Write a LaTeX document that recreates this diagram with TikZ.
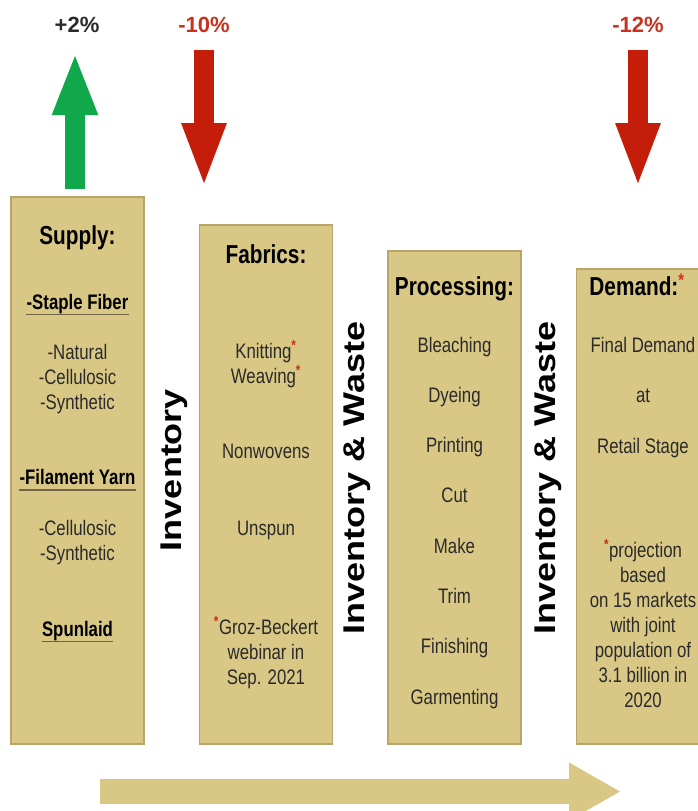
\documentclass[tikz,border=0pt]{standalone}
\usepackage{fontspec}
\setmainfont{Liberation Sans}
\newfontfamily\narrowsf{Liberation Sans}[FakeStretch=0.8]
\newfontfamily\tallsf{Liberation Sans}[FakeStretch=1.2]
\usetikzlibrary{arrows.meta,positioning}
\definecolor{stagefill}{HTML}{D9C885}
\definecolor{stageline}{HTML}{B9A569}
\definecolor{upgreen}{HTML}{10A84B}
\definecolor{downred}{HTML}{C41E0A}
\definecolor{pctred}{HTML}{C8321E}
\definecolor{inkgrey}{HTML}{2A2A2A}
\definecolor{ulgrey}{HTML}{6E6446}
\tikzset{
  stage/.style={draw=stageline, fill=stagefill, line width=1.8pt,
                minimum width=133pt, anchor=north, inner sep=0pt},
  hdr/.style={font=\narrowsf\bfseries\fontsize{26}{30}\selectfont,
              text=black, anchor=base, inner sep=0pt},
  sub/.style={font=\narrowsf\bfseries\fontsize{21}{25}\selectfont,
              text=black, anchor=base, inner sep=0pt},
  itm/.style={font=\narrowsf\fontsize{21}{25}\selectfont, text=inkgrey,
              anchor=base, inner sep=0pt},
  side/.style={font=\tallsf\bfseries\fontsize{30}{34}\selectfont,
               rotate=90, inner sep=0pt},
  pct/.style={font=\bfseries\fontsize{22}{26}\selectfont, inner sep=0pt},
  bigup/.style={-{Triangle[length=63pt,width=41pt]}, line width=20pt,
                draw=upgreen},
  bigdown/.style={-{Triangle[length=65pt,width=40pt]}, line width=20pt,
                  draw=downred},
  flowbar/.style={-{Triangle[length=52pt,width=54pt]}, line width=25pt,
                  draw=stagefill},
  ul/.style={draw=ulgrey, line width=1.6pt},
}
\newcommand{\redstar}{\textsuperscript{\textcolor{pctred}{\bfseries *}}}

\begin{document}
\begin{tikzpicture}[x=1pt, y=-1pt]
\useasboundingbox (0,0) rectangle (698,811);
\clip (0,0) rectangle (698,811);
\def\dx{188.5}

% the four stages
\node[stage, minimum height=547pt] at (77.5+0*\dx,196) (supply) {};
\node[stage, minimum height=519pt] at (77.5+1*\dx,224) (fabrics) {};
\node[stage, minimum height=493pt] at (77.5+2*\dx,250) (processing) {};
\node[stage, minimum height=475pt] at (77.5+3*\dx,268) (demand) {};

% supply
\node[hdr] at (77.5,244) (supplyhd) {Supply:};
\node[sub] at (77.5,309) (staple) {-Staple Fiber};
\foreach \t [count=\i from 0] in {-Natural,-Cellulosic,-Synthetic}{
  \node[itm] at (77.5,359+\i*25) (sf\i) {\t};}
\node[sub] at (77.5,484.5) (filament) {-Filament Yarn};
\foreach \t [count=\i from 0] in {-Cellulosic,-Synthetic}{
  \node[itm] at (77.5,535+\i*25) (fy\i) {\t};}
\node[sub] at (77.5,636) (spunlaid) {Spunlaid};
\foreach \n in {staple, filament, spunlaid}{
  \draw[ul] ([yshift=-5.5pt]\n.base west) -- ([yshift=-5.5pt]\n.base east);}

% fabrics
\node[hdr] at (266,263.5) (fabricshd) {Fabrics:};
\node[itm] at (266,358) (knit) {Knitting\redstar};
\node[itm] at (266,383) (weave) {Weaving\redstar};
\node[itm] at (266,458) (nonwoven) {Nonwovens};
\node[itm] at (266,535) (unspun) {Unspun};
\foreach \t [count=\i from 0] in {{\redstar Groz-Beckert},webinar in,Sep. 2021}{
  \node[itm] at (266,634+\i*25) (gb\i) {\t};}

% processing
\node[hdr] at (454.5,295.5) (processinghd) {Processing:};
\foreach \t [count=\i from 0] in {Bleaching,Dyeing,Printing,Cut,Make,Trim,
    Finishing,Garmenting}{
  \node[itm] at (454.5,352+\i*50.3) (pr\i) {\t};}

% demand
\node[hdr] at (637,295.5) (demandhd) {Demand:\redstar};
\foreach \t [count=\i from 0] in {Final Demand,at,Retail Stage}{
  \node[itm] at (643,352+\i*50.8) (dm\i) {\t};}
\foreach \t [count=\i from 0] in {{\redstar projection},based,on 15 markets,
    with joint,population of,3.1 billion in,2020}{
  \node[itm] at (643,557+\i*25) (pj\i) {\t};}

% inventory between stages
\node[side] at (174,470) (inv1) {Inventory};
\node[side] at (357,478) (inv2) {Inventory \& Waste};
\node[side] at (548,478) (inv3) {Inventory \& Waste};

% change arrows
\node[pct, text=inkgrey] at (77,25) (pctsupply) {+2\%};
\node[pct, text=pctred] at (204,25) (pctfabric) {-10\%};
\node[pct, text=pctred] at (638,25) (pctdemand) {-12\%};
\coordinate (uptip) at (75,52);
\coordinate (down1top) at (204,50);
\coordinate (down1tip) at (204,188);
\coordinate (down2top) at (638,50);
\coordinate (down2tip) at (638,188);
\draw[bigup] ([xshift=-2.5pt,yshift=7pt]supply.north) -- (uptip);
\draw[bigdown] (down1top) -- (down1tip);
\draw[bigdown] (down2top) -- (down2tip);

% flow direction
\coordinate (flowstart) at (100,791.5);
\coordinate (flowend) at (621,791.5);
\draw[flowbar] (flowstart) -- (flowend);
\end{tikzpicture}
\end{document}
